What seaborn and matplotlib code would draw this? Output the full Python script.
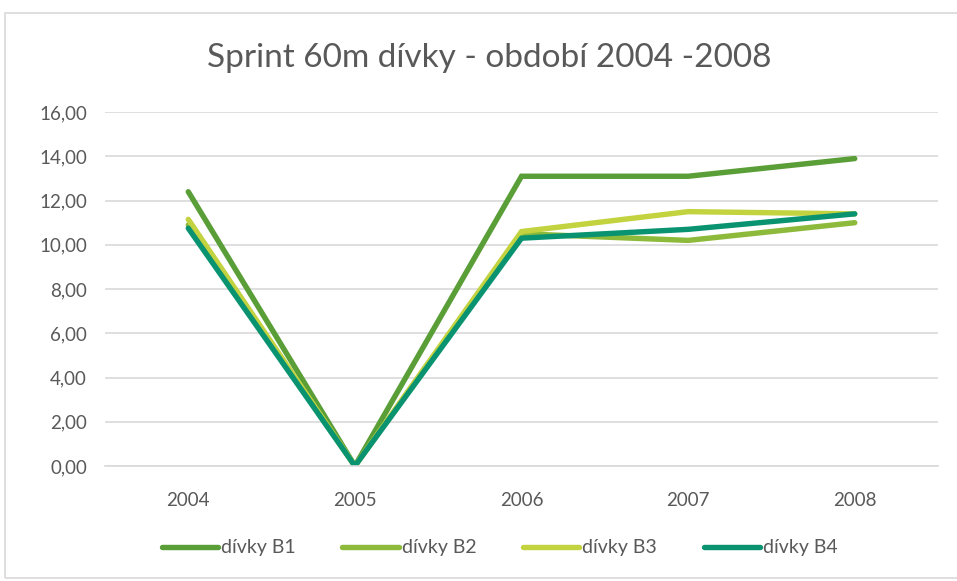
import pandas as pd
import matplotlib.pyplot as plt
import seaborn as sns
from matplotlib.patches import Rectangle
from matplotlib.ticker import FuncFormatter

# data
years = ["2004", "2005", "2006", "2007", "2008"]
b1 = [12.40, 0.0, 13.10, 13.10, 13.90]
b2 = [10.90, 0.0, 10.50, 10.20, 11.00]
b3 = [11.15, 0.0, 10.60, 11.50, 11.40]
b4 = [10.75, 0.0, 10.30, 10.70, 11.40]
series_names = ["dívky B1", "dívky B2", "dívky B3", "dívky B4"]
colors = ["#5A9E38", "#8DBA3B", "#C3D33F", "#0A9370"]

rows = []
for name, vals in zip(series_names, [b1, b2, b3, b4]):
    for i, v in enumerate(vals):
        rows.append({"pos": i, "value": v, "series": name})
df = pd.DataFrame(rows)

sns.set_style("white")
plt.rcParams["font.family"] = ["Lato", "DejaVu Sans"]

fig = plt.figure(figsize=(9.57, 5.81), dpi=100)
ax = fig.add_axes([0.1097, 0.198, 0.8705, 0.609])

sns.lineplot(data=df, x="pos", y="value", hue="series", hue_order=series_names,
             palette=colors, linewidth=3.9, ax=ax, legend=False,
             solid_capstyle="round", solid_joinstyle="miter")

ax.set_xlim(-0.5, len(years) - 0.5)
ax.set_ylim(0, 16)
ax.set_yticks(range(0, 17, 2))
ax.yaxis.set_major_formatter(FuncFormatter(lambda v, p: f"{v:.2f}".replace(".", ",")))
ax.set_xticks(range(len(years)))
ax.set_xticklabels(years)
ax.grid(axis="y", color="#D9D9D9", linewidth=1.2)
ax.set_axisbelow(True)
for s in ["top", "right", "left"]:
    ax.spines[s].set_visible(False)
ax.spines["bottom"].set_color("#D9D9D9")
ax.spines["bottom"].set_linewidth(1.2)
ax.tick_params(axis="both", length=0, labelsize=13.5, colors="#595959")
ax.tick_params(axis="x", pad=19)
ax.tick_params(axis="y", pad=13)
ax.set_xlabel("")
ax.set_ylabel("")

fig.text(0.511, 0.90, "Sprint 60m dívky - období 2004 -2008", ha="center", va="center",
         fontsize=24, color="#595959")

handles = [plt.Line2D([0], [0], color=c, linewidth=3.9, solid_capstyle="round")
           for c in colors]
fig.legend(handles, series_names, loc="center", bbox_to_anchor=(0.522, 0.057), ncol=4,
           frameon=False, fontsize=14, handlelength=2.9, handletextpad=0.15,
           columnspacing=2.4, labelcolor="#595959")

fig.patches.append(Rectangle((5 / 957, 3 / 581), 1.2, 1 - 16 / 581, transform=fig.transFigure,
                             fill=False, edgecolor="#D9D9D9", linewidth=1.2))

plt.savefig("out.png", dpi=100)
